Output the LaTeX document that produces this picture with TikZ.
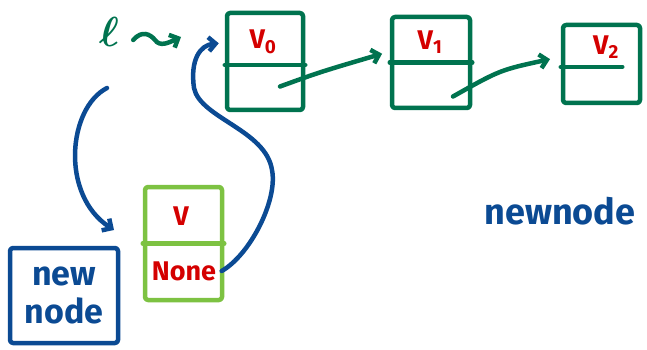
\documentclass[tikz,border=0pt]{standalone}
\usepackage{fontspec}
\setmainfont{Fira Sans}
\usetikzlibrary{arrows.meta,calc}
\definecolor{dgreen}{HTML}{00734F}
\definecolor{lgreen}{HTML}{7DC242}
\definecolor{hred}{HTML}{D40000}
\definecolor{hblue}{HTML}{0B4A93}
\begin{document}
\begin{tikzpicture}[x=1pt,y=-1pt,line width=4.5pt,line cap=round,line join=round,
  cell/.style={draw=dgreen,rounded corners=3pt,inner sep=0pt},
  lbl/.style={text=hred,font=\fontsize{27}{30}\selectfont\bfseries},
  btext/.style={text=hblue,font=\fontsize{36}{40}\selectfont\bfseries},
  tip/.style={-{Straight Barb[length=7pt,width=14pt]}},
  barrow/.style={draw=hblue,tip},
  garrow/.style={draw=dgreen,tip}]
\useasboundingbox (0,0) rectangle (647,350);
% list cells
\node[cell,minimum width=76pt,minimum height=97pt] (v0) at (265,61.5) {};
\node[cell,minimum width=78pt,minimum height=91pt] (v1) at (431,62.5) {};
\node[cell,minimum width=77pt,minimum height=78pt] (v2) at (601.5,64) {};
\draw[dgreen] ([yshift=-3.5pt]v0.west) -- ([yshift=-3.5pt]v0.east);
\draw[dgreen] (v1.west) -- (v1.east);
\draw[dgreen] ([yshift=-3pt]v2.west) -- ([yshift=-3pt,xshift=-20pt]v2.east);
\node[lbl] (t0) at (263,42) {V\textsubscript{0}};
\node[lbl] (t1) at (430,42) {V\textsubscript{1}};
\node[lbl] (t2) at (606,47) {V\textsubscript{2}};
% new cell
\node[draw=lgreen,rounded corners=3pt,inner sep=0pt,minimum width=77pt,minimum height=113pt] (nc) at (183.5,243.5) {};
\draw[lgreen] (nc.west) -- (nc.east);
\node[lbl] (tv) at (181,216) {V};
\node[lbl] (none) at (184,271) {None};
% newnode box
\node[draw=hblue,rounded corners=3pt,minimum width=108pt,minimum height=95pt,inner sep=0pt,
  align=center,text=hblue,font=\fontsize{34}{38}\selectfont\bfseries] (nn) at (64,295.5) {new\\node};
\node[btext] (nnt) at (560,211) {newnode};
% head pointer
\node[text=dgreen,inner sep=0pt] (ell) at (109,32) {\scalebox{4.2}{\boldmath$\ell$}};
\coordinate (lend) at (181,37);
\draw[garrow] (ell.east) ++(12,8) .. controls (142,30) and (150,34) .. (155,40)
  .. controls (160,47) and (168,43) .. (lend);
% next arrows
\draw[garrow,shorten >=8pt] ($(v0.center)+(15,25)$) .. controls (320,72) .. (v1.165);
\draw[garrow,shorten >=11pt] ($(v1.center)+(22,34)$) .. controls (500,70) .. (v2.170);
% blue arrows
\coordinate (bs) at (107,88);
\coordinate (be) at (114,230);
\draw[barrow] (bs) .. controls (68,108) and (60,195) .. (be);
\draw[barrow,shorten >=6pt] (none.east) .. controls (250,255) and (278,200) .. (272,170)
  .. controls (266,130) and (200,118) .. (194,88) .. controls (190,60) and (200,45) .. (v0.155);
\end{tikzpicture}
\end{document}
